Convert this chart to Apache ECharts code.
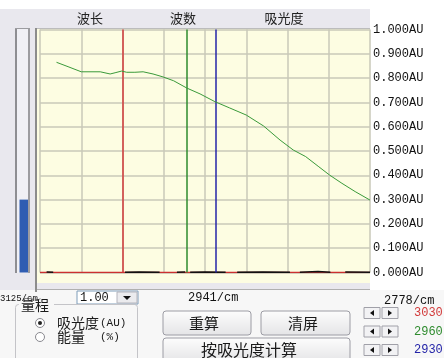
<!DOCTYPE html>
<html>
<head>
<meta charset="utf-8">
<script src="https://cdn.jsdelivr.net/npm/echarts@6/dist/echarts.min.js"></script>
<style>
  html, body { margin: 0; padding: 0; background: #ffffff; }
  #chart { width: 444px; height: 358px; }
</style>
</head>
<body>
<div id="chart"></div>
<script>
// Absorbance spectrum (x: wavelength in nm, y: absorbance in AU)
const wavelengthNm = [3220, 3234, 3250, 3273, 3285, 3291, 3299, 3305, 3315, 3325, 3337, 3349, 3362,
                      3378, 3394, 3412, 3430, 3450, 3471, 3491, 3507, 3522, 3538, 3551, 3566, 3582, 3600];
const absorbance   = [0.865, 0.847, 0.826, 0.826, 0.817, 0.822, 0.829, 0.824, 0.824, 0.826, 0.817, 0.805, 0.789,
                      0.759, 0.735, 0.703, 0.677, 0.648, 0.603, 0.545, 0.504, 0.477, 0.435, 0.401, 0.367, 0.333, 0.298];

// Reference baseline trace near zero (null = gap)
const baseWavelengthNm = [3208, 3216, 3217, 3303, 3320, 3345, 3346, 3366, 3376, 3377, 3382, 3400, 3425, 3426,
                          3439, 3470, 3503, 3504, 3515, 3537, 3552, 3553, 3570, 3600];
const baseValue        = [0.002, 0.001, null, 0.001, 0.002, 0.001, null, 0.001, 0.002, null, 0.001, 0.002, 0.001, null,
                          0.001, 0.002, 0.001, null, 0.001, 0.004, 0.001, null, 0.002, 0.001];

// Cursor wavenumbers (cm^-1) and their colours
const cursorWavenumbers = [3030, 2960, 2930];
const cursorColors = ['#d23a3a', '#2e8b2e', '#2424a8'];

// Axis extent in wavenumbers shown under the plot
const rangeWavenumbers = [3125, 2941, 2778];

// Level meter value (AU)
const levelValue = [0.30];

// Header labels and controls
const headerLabels = ['波长', '波数', '吸光度'];
const rangeValue = '1.00';

const toNm = wn => 1e7 / wn;

const plot = { left: 40, top: 29.5, width: 330, height: 243 };
const cjk = '"Noto Sans CJK SC", "Noto Sans", sans-serif';
const mono = '"Liberation Mono", "DejaVu Sans Mono", monospace';

const chart = echarts.init(document.getElementById('chart'), null, { renderer: 'canvas' });

const splitStyle = { color: '#c8c8b8', width: 1.5 };

function button(x, y, w, h, label, tx, size) {
  return [
    { type: 'rect', shape: { x: x, y: y, width: w, height: h, r: 3 }, z: 10,
      style: { fill: new echarts.graphic.LinearGradient(0, 0, 0, 1, [
        { offset: 0, color: '#fdfdfd' }, { offset: 1, color: '#e4e4e6' }]),
        stroke: '#9c9ca4', lineWidth: 1 } },
    { type: 'text', x: tx, y: y + h / 2, z: 11,
      style: { text: label, font: size + 'px ' + cjk, fill: '#1a1a1a', align: 'center', verticalAlign: 'middle' } }
  ];
}

function spinner(y, value, color) {
  const h = 11;
  return [
    { type: 'rect', shape: { x: 364, y: y - h / 2, width: 16, height: h }, z: 10,
      style: { fill: '#f2f2f4', stroke: '#a0a0a8', lineWidth: 1 } },
    { type: 'rect', shape: { x: 382, y: y - h / 2, width: 16, height: h }, z: 10,
      style: { fill: '#f2f2f4', stroke: '#a0a0a8', lineWidth: 1 } },
    { type: 'polygon', shape: { points: [[370, y], [374, y - 3], [374, y + 3]] }, z: 11, style: { fill: '#111' } },
    { type: 'polygon', shape: { points: [[392, y], [388, y - 3], [388, y + 3]] }, z: 11, style: { fill: '#111' } },
    { type: 'text', x: 414, y: y, z: 11,
      style: { text: String(value), font: '12px ' + mono, fill: color, verticalAlign: 'middle' } }
  ];
}

const graphics = [
  // window panels
  { type: 'rect', shape: { x: 0, y: 9, width: 370, height: 281 }, z: -10, style: { fill: '#e9e8ee' } },
  { type: 'rect', shape: { x: 0, y: 290, width: 444, height: 68 }, z: -10, style: { fill: '#f7f7f7' } },
  // plot background and frame
  { type: 'rect', shape: { x: 37, y: 28, width: 333, height: 255 }, z: -9, style: { fill: '#fdfde2' } },
  { type: 'line', shape: { x1: 37, y1: 28.5, x2: 370, y2: 28.5 }, z: -8, style: { stroke: '#bcbcbc', lineWidth: 1 } },
  { type: 'line', shape: { x1: 36, y1: 28, x2: 36, y2: 292 }, z: 5, style: { stroke: '#8c8c8c', lineWidth: 2 } },
  { type: 'line', shape: { x1: 37, y1: 289.5, x2: 370, y2: 289.5 }, z: 5, style: { stroke: '#b0b0b0', lineWidth: 1 } },
  // level meter frame
  { type: 'rect', shape: { x: 15, y: 28, width: 15, height: 245 }, z: -8, style: { fill: '#f0f0f5' } },
  { type: 'line', shape: { x1: 16, y1: 28, x2: 16, y2: 273 }, z: 5, style: { stroke: '#8e8e92', lineWidth: 2 } },
  { type: 'line', shape: { x1: 29, y1: 28, x2: 29, y2: 273 }, z: 5, style: { stroke: '#9c9ca0', lineWidth: 2 } },
  { type: 'line', shape: { x1: 15, y1: 28.5, x2: 30, y2: 28.5 }, z: 5, style: { stroke: '#9c9ca0', lineWidth: 1 } },
  // header labels
  { type: 'text', x: 90, y: 18, z: 11, style: { text: headerLabels[0], font: '13px ' + cjk, fill: '#222', align: 'center', verticalAlign: 'middle' } },
  { type: 'text', x: 183, y: 18, z: 11, style: { text: headerLabels[1], font: '13px ' + cjk, fill: '#222', align: 'center', verticalAlign: 'middle' } },
  { type: 'text', x: 284, y: 18, z: 11, style: { text: headerLabels[2], font: '13px ' + cjk, fill: '#222', align: 'center', verticalAlign: 'middle' } },
  // wavenumber range labels
  { type: 'text', x: 0, y: 299, z: 11, style: { text: rangeWavenumbers[0] + '/cm', font: '9px ' + mono, fill: '#111', verticalAlign: 'middle' } },
  { type: 'text', x: 188, y: 298, z: 11, style: { text: rangeWavenumbers[1] + '/cm', font: '12px ' + mono, fill: '#111', verticalAlign: 'middle' } },
  { type: 'text', x: 384, y: 301, z: 11, style: { text: rangeWavenumbers[2] + '/cm', font: '12px ' + mono, fill: '#111', verticalAlign: 'middle' } },
  // range drop-down
  { type: 'rect', shape: { x: 77, y: 291, width: 61, height: 13 }, z: 10, style: { fill: '#ffffff', stroke: '#7f9db9', lineWidth: 1 } },
  { type: 'text', x: 80, y: 297.5, z: 11, style: { text: rangeValue, font: '12px ' + mono, fill: '#111', verticalAlign: 'middle' } },
  { type: 'rect', shape: { x: 117, y: 292, width: 20, height: 11 }, z: 11, style: { fill: '#ebebee', stroke: '#b4b4bc', lineWidth: 1 } },
  { type: 'polygon', shape: { points: [[123, 296], [131, 296], [127, 300]] }, z: 12, style: { fill: '#111' } },
  // range group box
  { type: 'rect', shape: { x: 15.5, y: 304.5, width: 122, height: 62, r: 3 }, z: 10, style: { fill: 'none', stroke: '#c4c4c8', lineWidth: 1 } },
  { type: 'rect', shape: { x: 19, y: 298, width: 35, height: 13 }, z: 10, style: { fill: '#f7f7f7' } },
  { type: 'text', x: 21, y: 305, z: 11, style: { text: '量程', font: '14px ' + cjk, fill: '#1a1a1a', verticalAlign: 'middle' } },
  { type: 'circle', shape: { cx: 40, cy: 323, r: 4.5 }, z: 10, style: { fill: '#ffffff', stroke: '#8a8a90', lineWidth: 1 } },
  { type: 'circle', shape: { cx: 40, cy: 323, r: 2 }, z: 11, style: { fill: '#222' } },
  { type: 'text', x: 57, y: 323, z: 11, style: { text: '吸光度', font: '14px ' + cjk, fill: '#1a1a1a', verticalAlign: 'middle' } },
  { type: 'text', x: 100, y: 323, z: 11, style: { text: '(AU)', font: '11px ' + mono, fill: '#1a1a1a', verticalAlign: 'middle' } },
  { type: 'circle', shape: { cx: 40, cy: 337, r: 4.5 }, z: 10, style: { fill: '#ffffff', stroke: '#8a8a90', lineWidth: 1 } },
  { type: 'text', x: 57, y: 337, z: 11, style: { text: '能量', font: '14px ' + cjk, fill: '#1a1a1a', verticalAlign: 'middle' } },
  { type: 'text', x: 100, y: 337, z: 11, style: { text: '(%)', font: '11px ' + mono, fill: '#1a1a1a', verticalAlign: 'middle' } }
]
  .concat(button(163, 311, 88, 24, '重算', 204, 15))
  .concat(button(261, 311, 89, 24, '清屏', 303, 15))
  .concat(button(163, 338, 187, 24, '按吸光度计算', 249, 16))
  .concat(spinner(313, cursorWavenumbers[0], cursorColors[0]))
  .concat(spinner(331.5, cursorWavenumbers[1], cursorColors[1]))
  .concat(spinner(350, cursorWavenumbers[2], cursorColors[2]));

const option = {
  animation: false,
  backgroundColor: '#ffffff',
  grid: [
    Object.assign({}, plot),
    { left: 19.5, top: plot.top, width: 8.5, height: plot.height }
  ],
  xAxis: [
    { gridIndex: 0, type: 'value', min: 3200, max: 3600, interval: 50,
      axisLine: { show: false }, axisTick: { show: false }, axisLabel: { show: false },
      splitLine: { show: true, lineStyle: splitStyle } },
    { gridIndex: 1, type: 'category', data: ['level'], show: false }
  ],
  yAxis: [
    { gridIndex: 0, type: 'value', min: 0, max: 1, interval: 0.1, position: 'right',
      axisLine: { show: false }, axisTick: { show: false },
      axisLabel: { margin: 3, formatter: v => v.toFixed(3) + 'AU', fontFamily: mono, fontSize: 12, color: '#111' },
      splitLine: { show: true, lineStyle: splitStyle } },
    { gridIndex: 1, type: 'value', min: 0, max: 1, show: false }
  ],
  series: [
    { type: 'line', name: 'zero', xAxisIndex: 0, yAxisIndex: 0, symbol: 'none',
      data: [[3200, 0], [3600, 0]], lineStyle: { color: '#cc3030', width: 1.5 }, z: 3 },
    { type: 'line', name: 'baseline', xAxisIndex: 0, yAxisIndex: 0, symbol: 'none', connectNulls: false,
      data: baseWavelengthNm.map((w, i) => [w, baseValue[i]]), lineStyle: { color: '#111111', width: 1.5 }, z: 4 },
    { type: 'line', name: 'cursors', xAxisIndex: 0, yAxisIndex: 0, symbol: 'none', data: [], z: 5,
      markLine: { silent: true, symbol: ['none', 'none'], label: { show: false },
        data: cursorWavenumbers.map((wn, i) => ({ xAxis: toNm(wn), lineStyle: { color: cursorColors[i], width: 1.5, type: 'solid' } })) } },
    { type: 'line', name: 'absorbance', xAxisIndex: 0, yAxisIndex: 0, symbol: 'none', z: 6,
      data: wavelengthNm.map((w, i) => [w, absorbance[i]]), lineStyle: { color: '#3a9a3a', width: 1 } },
    { type: 'bar', name: 'level', xAxisIndex: 1, yAxisIndex: 1, barWidth: '100%',
      data: levelValue, itemStyle: { color: '#2f5db2' } }
  ],
  graphic: { elements: graphics }
};

chart.setOption(option);
</script>
</body>
</html>
